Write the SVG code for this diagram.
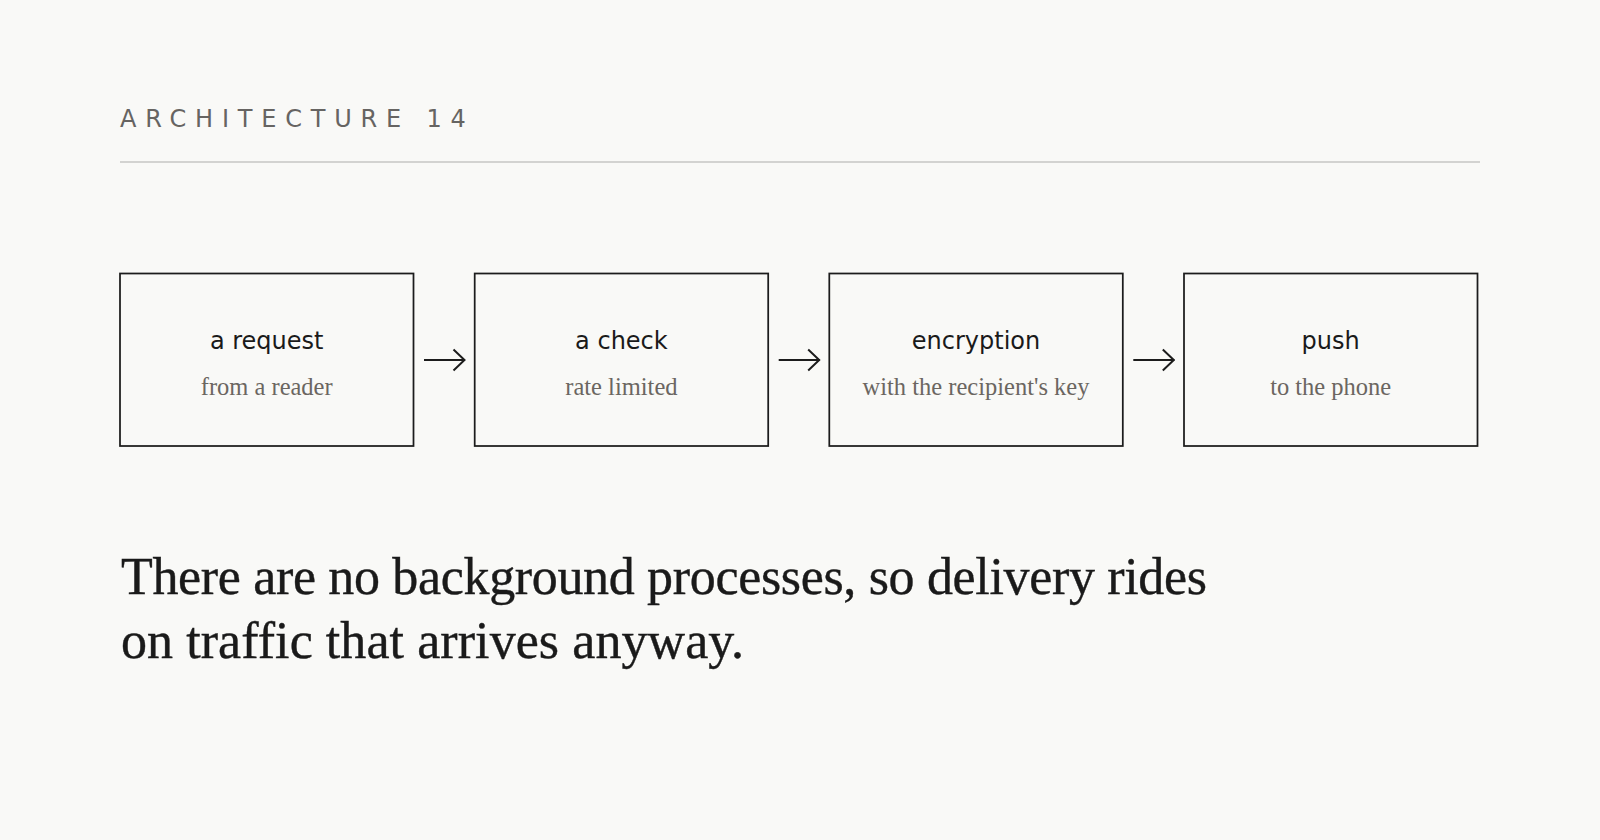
<svg xmlns="http://www.w3.org/2000/svg" width="1600" height="840" viewBox="0 0 1600 840">
  <style>
    .kicker { font-family: "DejaVu Sans", sans-serif; font-size: 24px; letter-spacing: 8.8px; fill: #666462; }
    .box { fill: none; stroke: #1c1c1c; stroke-width: 1.75; }
    .title { font-family: "DejaVu Sans", sans-serif; font-size: 24px; fill: #1a1a1a; text-anchor: middle; }
    .sub { font-family: "Liberation Serif", "Times New Roman", serif; font-size: 24.5px; fill: #6b6661; text-anchor: middle; }
    .conn { fill: none; stroke: #1c1c1c; stroke-width: 2; }
    .lead { font-family: "Liberation Serif", "Times New Roman", serif; font-size: 52px; fill: #1a1a1a; stroke: #1a1a1a; stroke-width: 0.4; }
  </style>
  <defs>
    <marker id="arrow" viewBox="0 0 14 24" refX="13" refY="12" markerWidth="14" markerHeight="24" markerUnits="userSpaceOnUse" orient="auto">
      <path d="M1.5,1.5 L12.5,12 L1.5,22.5" fill="none" stroke="#1c1c1c" stroke-width="2"/>
    </marker>
  </defs>
  <rect x="0" y="0" width="1600" height="840" fill="#f9f9f7"/>

  <g id="header">
    <text class="kicker" x="120" y="127.3">ARCHITECTURE 14</text>
    <line x1="120" y1="162" x2="1480" y2="162" stroke="#c6c6c4" stroke-width="1.5"/>
  </g>

  <g id="node-request">
    <rect class="box" x="120" y="273.5" width="293.5" height="172.5"/>
    <text class="title" x="266.7" y="349.3">a request</text>
    <text class="sub" x="266.7" y="395">from a reader</text>
  </g>
  <g id="node-check">
    <rect class="box" x="474.7" y="273.5" width="293.5" height="172.5"/>
    <text class="title" x="621.4" y="349.3">a check</text>
    <text class="sub" x="621.4" y="395">rate limited</text>
  </g>
  <g id="node-encryption">
    <rect class="box" x="829.3" y="273.5" width="293.5" height="172.5"/>
    <text class="title" x="976" y="349.3">encryption</text>
    <text class="sub" x="976" y="395">with the recipient's key</text>
  </g>
  <g id="node-push">
    <rect class="box" x="1184" y="273.5" width="293.5" height="172.5"/>
    <text class="title" x="1330.7" y="349.3">push</text>
    <text class="sub" x="1330.7" y="395">to the phone</text>
  </g>

  <g id="connectors">
    <line class="conn" x1="424" y1="360" x2="465" y2="360" marker-end="url(#arrow)"/>
    <line class="conn" x1="778.7" y1="360" x2="819.7" y2="360" marker-end="url(#arrow)"/>
    <line class="conn" x1="1133.3" y1="360" x2="1174.3" y2="360" marker-end="url(#arrow)"/>
  </g>

  <g id="caption">
    <text class="lead" x="121" y="593.5" textLength="1086" lengthAdjust="spacing">There are no background processes, so delivery rides</text>
    <text class="lead" x="121" y="657.7" textLength="623" lengthAdjust="spacing">on traffic that arrives anyway.</text>
  </g>
</svg>
